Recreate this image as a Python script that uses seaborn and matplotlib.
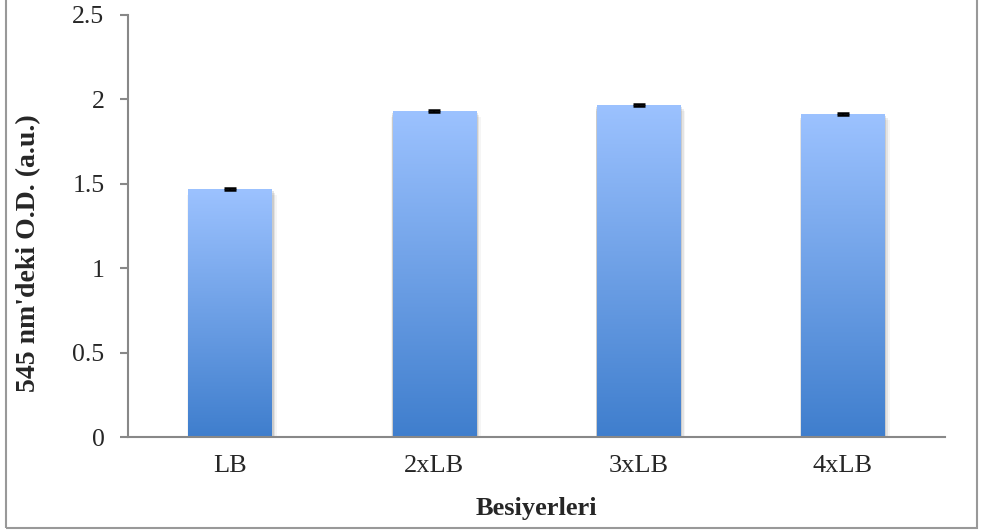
import numpy as np
import pandas as pd
import matplotlib
matplotlib.use('Agg')
import matplotlib.pyplot as plt
import seaborn as sns
from matplotlib.colors import LinearSegmentedColormap
from matplotlib.patches import Rectangle

# Data
media = ['LB', '2xLB', '3xLB', '4xLB']
od_545 = [1.468, 1.930, 1.966, 1.912]
od_err = [0.004, 0.004, 0.004, 0.004]

df = pd.DataFrame({'Besiyerleri': media, 'OD': od_545})

sns.set_style('white')
plt.rcParams['font.family'] = ['Liberation Serif', 'DejaVu Serif']

fig = plt.figure(figsize=(9.81, 5.31), dpi=100)
ax = fig.add_axes([0.1305, 0.177, 0.8328, 0.7952])

sns.barplot(data=df, x='Besiyerleri', y='OD', color='#6fa0e8', width=0.41,
            errorbar=None, ax=ax, zorder=2)

# gradient fill (light top -> darker bottom) with a soft shadow
cmap = LinearSegmentedColormap.from_list('bar', ['#3f7ecd', '#9cc2ff'])
grad = np.linspace(0, 1, 256).reshape(-1, 1)
for bar in ax.patches:
    x0, y0 = bar.get_x(), bar.get_y()
    w, h = bar.get_width(), bar.get_height()
    for k, a in enumerate([0.10, 0.07, 0.04]):
        d = 0.006 * (k + 1)
        ax.add_patch(Rectangle((x0 - d * 0.3, y0), w + d * 1.6, h - d * 2,
                               facecolor='black', alpha=a, lw=0, zorder=1))
    bar.set_alpha(0)
    im = ax.imshow(grad, cmap=cmap, origin='lower', aspect='auto',
                   extent=[x0, x0 + w, y0, y0 + h], zorder=2)
    im.set_clip_path(bar)

ax.errorbar(range(len(media)), od_545, yerr=od_err, fmt='none', ecolor='black',
            elinewidth=1.2, capsize=4.5, capthick=1.8, zorder=3)

ax.set_xlim(-0.5, 3.5)
ax.set_ylim(0, 2.5)
ax.set_yticks([0, 0.5, 1, 1.5, 2, 2.5])
ax.set_yticklabels(['0', '0.5', '1', '1.5', '2', '2.5'])

ax.set_xticks(range(4))
ax.set_xticklabels(media)
ax.set_xticks([-0.5, 0.5, 1.5, 2.5, 3.5], minor=True)
ax.tick_params(axis='x', which='major', length=0, pad=13, labelsize=19)
ax.tick_params(axis='x', which='minor', length=7, width=1.5, color='#888888', direction='out')
ax.tick_params(axis='y', length=6, width=1.5, color='#888888', direction='out', pad=11, labelsize=18.5, left=True)

for s in ['top', 'right']:
    ax.spines[s].set_visible(False)
for s in ['left', 'bottom']:
    ax.spines[s].set_color('#888888')
    ax.spines[s].set_linewidth(1.5)

ax.set_xlabel('Besiyerleri', fontsize=19, fontweight='bold', labelpad=14)
ax.set_ylabel("545 nm'deki O.D. (a.u.)", fontsize=20, fontweight='bold',
              va='center', rotation_mode='default')
ax.yaxis.set_label_coords(-0.122, 0.436)

# outer chart border
fig.patches.append(Rectangle((0.006, 0.005), 0.99, 1.2, transform=fig.transFigure,
                             fill=False, edgecolor='#999999', lw=1.5, zorder=0))

fig.savefig('out.png', dpi=100)
